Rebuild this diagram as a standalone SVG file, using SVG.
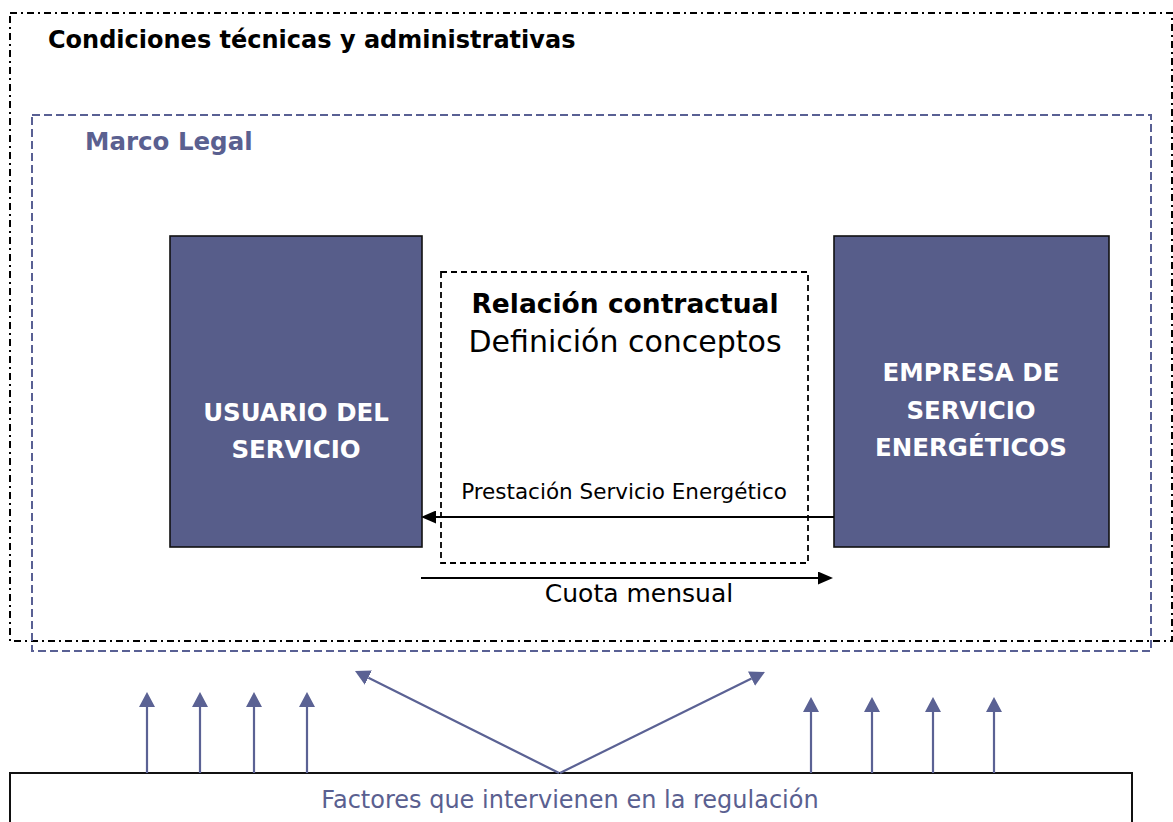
<svg xmlns="http://www.w3.org/2000/svg" width="1173" height="822" viewBox="0 0 1173 822">
<style>
  .frame-outer { fill: none; stroke: #000; stroke-width: 2; stroke-dasharray: 7 4 2 4; }
  .frame-legal { fill: none; stroke: #596094; stroke-width: 2; stroke-dasharray: 8 4; }
  .party { fill: #575d8a; stroke: #111; stroke-width: 1.6; }
  .contract { fill: none; stroke: #000; stroke-width: 1.8; stroke-dasharray: 6 4; }
  .factors { fill: #fff; stroke: #111; stroke-width: 2; }
  .flow { stroke: #000; stroke-width: 2; fill: none; }
  .infl { stroke: #5b6294; stroke-width: 2.2; fill: none; }
  .bold { font-family: "DejaVu Sans", "Liberation Sans", sans-serif; font-weight: bold; }
  .reg { font-family: "DejaVu Sans", "Liberation Sans", sans-serif; }
  .white { fill: #fff; }
  .blue { fill: #5a6090; }
  .black { fill: #000; }
</style>
<defs>
  <marker id="ah-black" viewBox="0 0 15 13" markerWidth="15" markerHeight="13" refX="0" refY="6.5" orient="auto" markerUnits="userSpaceOnUse">
    <path d="M0,0 L15,6.5 L0,13 z" fill="#000"/>
  </marker>
  <marker id="ah-blue" viewBox="0 0 15 16" markerWidth="15" markerHeight="16" refX="0" refY="8" orient="auto" markerUnits="userSpaceOnUse">
    <path d="M0,0 L15,8 L0,16 z" fill="#5b6294"/>
  </marker>
</defs>

<g id="condiciones">
  <rect class="frame-outer" x="10" y="13" width="1162" height="628"/>
  <text class="bold black" x="48" y="48" font-size="24">Condiciones técnicas y administrativas</text>
</g>

<g id="marco-legal">
  <rect class="frame-legal" x="32" y="115" width="1119" height="536"/>
  <text class="bold blue" x="85" y="150" font-size="24.5">Marco Legal</text>
</g>

<g id="usuario">
  <rect class="party" x="170" y="236" width="252" height="311"/>
  <text class="bold white" x="296" y="421" font-size="24.5" text-anchor="middle">USUARIO DEL</text>
  <text class="bold white" x="296" y="458" font-size="24.5" text-anchor="middle">SERVICIO</text>
</g>

<g id="empresa">
  <rect class="party" x="834" y="236" width="275" height="311"/>
  <text class="bold white" x="971" y="381" font-size="24.5" text-anchor="middle">EMPRESA DE</text>
  <text class="bold white" x="971" y="419" font-size="24.5" text-anchor="middle">SERVICIO</text>
  <text class="bold white" x="971" y="456" font-size="24.5" text-anchor="middle">ENERGÉTICOS</text>
</g>

<g id="relacion">
  <rect class="contract" x="441" y="272" width="367" height="291"/>
  <text class="bold black" x="625" y="313" font-size="26.5" text-anchor="middle">Relación contractual</text>
  <text class="reg black" x="625" y="352" font-size="30" text-anchor="middle">Definición conceptos</text>
</g>

<g id="factores">
  <rect class="factors" x="10" y="773" width="1122" height="70"/>
  <text class="reg blue" x="570" y="808" font-size="24" text-anchor="middle">Factores que intervienen en la regulación</text>
</g>

<g id="connectors">
  <line class="flow" x1="834" y1="517" x2="436" y2="517" marker-end="url(#ah-black)"/>
  <text class="reg black" x="624" y="499" font-size="21.5" text-anchor="middle">Prestación Servicio Energético</text>
  <line class="flow" x1="421" y1="578" x2="818" y2="578" marker-end="url(#ah-black)"/>
  <text class="reg black" x="639" y="602" font-size="25" text-anchor="middle">Cuota mensual</text>

  <line class="infl" x1="147" y1="773" x2="147" y2="707" marker-end="url(#ah-blue)"/>
  <line class="infl" x1="200" y1="773" x2="200" y2="707" marker-end="url(#ah-blue)"/>
  <line class="infl" x1="254" y1="773" x2="254" y2="707" marker-end="url(#ah-blue)"/>
  <line class="infl" x1="307" y1="773" x2="307" y2="707" marker-end="url(#ah-blue)"/>

  <line class="infl" x1="811" y1="773" x2="811" y2="712" marker-end="url(#ah-blue)"/>
  <line class="infl" x1="872" y1="773" x2="872" y2="712" marker-end="url(#ah-blue)"/>
  <line class="infl" x1="933" y1="773" x2="933" y2="712" marker-end="url(#ah-blue)"/>
  <line class="infl" x1="994" y1="773" x2="994" y2="712" marker-end="url(#ah-blue)"/>

  <line class="infl" x1="559" y1="773" x2="368.4" y2="677.7" marker-end="url(#ah-blue)"/>
  <line class="infl" x1="560" y1="773" x2="751.5" y2="678.6" marker-end="url(#ah-blue)"/>
</g>
</svg>
